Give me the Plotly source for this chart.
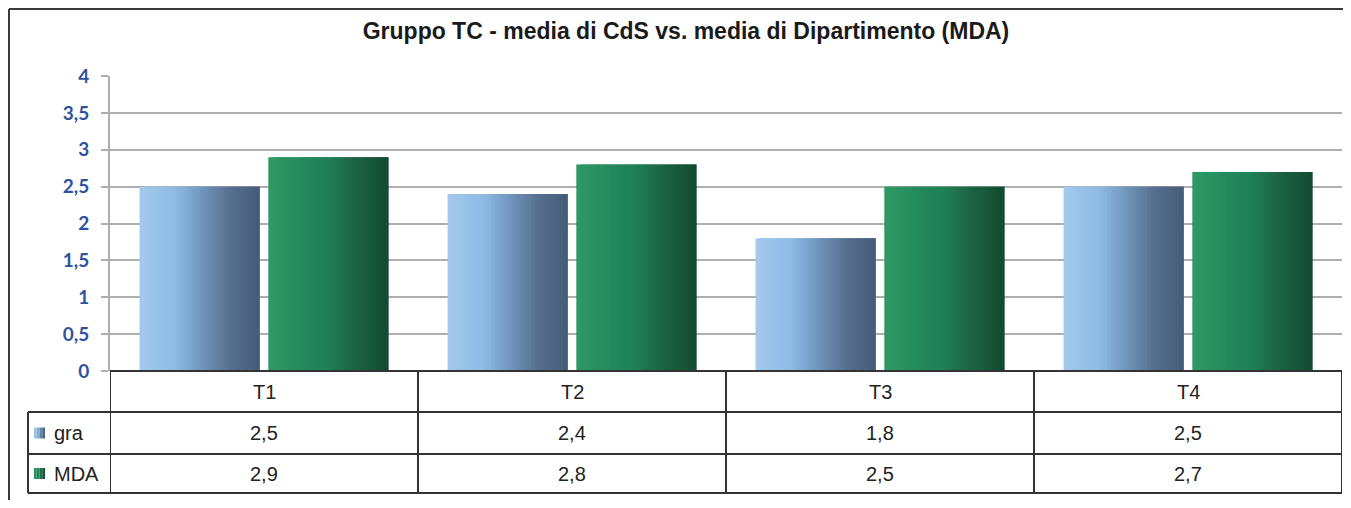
import plotly.graph_objects as go

# ---- data ----
categories = ["T1", "T2", "T3", "T4"]
series_names = ["gra", "MDA"]
gra_values = [2.5, 2.4, 1.8, 2.5]
mda_values = [2.9, 2.8, 2.5, 2.7]
y_tick_vals = [0, 0.5, 1, 1.5, 2, 2.5, 3, 3.5, 4]
y_tick_text = ["0", "0,5", "1", "1,5", "2", "2,5", "3", "3,5", "4"]
title_text = "Gruppo TC - media di CdS vs. media di Dipartimento (MDA)"

# ---- styling ----
OFF = 8  # page body margin of the html page
W, H = 1351 - 2 * OFF, 508 - 2 * OFF
PLOT_L, PLOT_R, PLOT_T, PLOT_B = 110, 1342, 76, 371  # in window pixels
ML, MT = PLOT_L - OFF, PLOT_T - OFF
MR = W - (PLOT_R - OFF)
MB = H - (PLOT_B - OFF)
PW, PH = PLOT_R - PLOT_L, PLOT_B - PLOT_T

blue_stops = [(0.0, (164, 202, 236)), (0.3, (142, 186, 229)), (0.5, (115, 153, 192)),
              (0.75, (86, 112, 143)), (1.0, (69, 91, 120))]
green_stops = [(0.0, (47, 154, 102)), (0.3, (35, 137, 92)), (0.5, (31, 127, 86)),
               (0.72, (27, 100, 68)), (1.0, (18, 74, 48))]


def interp(stops, t):
    for (t0, c0), (t1, c1) in zip(stops[:-1], stops[1:]):
        if t <= t1:
            f = (t - t0) / (t1 - t0) if t1 > t0 else 0
            return "rgb(%d,%d,%d)" % tuple(round(a + (b - a) * f) for a, b in zip(c0, c1))
    return "rgb(%d,%d,%d)" % stops[-1][1]


def px_x(p):
    return (p - PLOT_L) / PW


def px_y(p):
    return (PLOT_B - p) / PH


BAR_W = 0.39
GAP = 0.028
N = 30
fig = go.Figure()
for vals, stops, base in [(gra_values, blue_stops, -(BAR_W + GAP / 2)),
                          (mda_values, green_stops, GAP / 2)]:
    sw = BAR_W / N
    for i in range(N):
        t = (i + 0.5) / N
        w = sw * 2 if i < N - 1 else sw
        fig.add_trace(go.Bar(
            x=categories, y=vals, width=w, offset=base + i * sw,
            marker=dict(color=interp(stops, t), line=dict(width=0)),
            showlegend=False, hoverinfo="skip"))

shapes = []
annots = []
LINE = dict(color="#333333", width=2)
row_y = [px_y(371), px_y(412), px_y(454), px_y(493)]
left_x = px_x(28)

# horizontal table lines
shapes.append(dict(type="line", xref="paper", yref="paper", x0=0, x1=1, y0=row_y[0], y1=row_y[0], line=LINE))
for yy in row_y[1:]:
    shapes.append(dict(type="line", xref="paper", yref="paper", x0=left_x, x1=1, y0=yy, y1=yy, line=LINE))
# vertical table lines
for k in range(len(categories) + 1):
    shapes.append(dict(type="line", xref="x", yref="paper", x0=k - 0.5, x1=k - 0.5,
                       y0=row_y[0], y1=row_y[3], line=LINE))
shapes.append(dict(type="line", xref="paper", yref="paper", x0=left_x, x1=left_x,
                   y0=row_y[1], y1=row_y[3], line=LINE))

# outer frame (left and top edges)
FRAME = dict(color="#3a3a3a", width=2)
shapes.append(dict(type="line", xref="paper", yref="paper", x0=px_x(9), x1=px_x(9),
                   y0=px_y(9), y1=px_y(520), line=FRAME))
shapes.append(dict(type="line", xref="paper", yref="paper", x0=px_x(9), x1=px_x(1360),
                   y0=px_y(9), y1=px_y(9), line=FRAME))

TXT = dict(family="Liberation Sans, Arial, sans-serif", size=20, color="#222222")
# header row
for i, c in enumerate(categories):
    annots.append(dict(xref="x", yref="paper", x=i, y=(row_y[0] + row_y[1]) / 2, text=c,
                       showarrow=False, font=TXT, xanchor="center", yanchor="middle"))
# value rows
for r, (name, vals, stops) in enumerate([(series_names[0], gra_values, blue_stops),
                                          (series_names[1], mda_values, green_stops)]):
    yc = (row_y[r + 1] + row_y[r + 2]) / 2
    for i, v in enumerate(vals):
        annots.append(dict(xref="x", yref="paper", x=i, y=yc, text=f"{v:.1f}".replace(".", ","),
                           showarrow=False, font=TXT, xanchor="center", yanchor="middle"))
    annots.append(dict(xref="paper", yref="paper", x=px_x(52), y=yc, text=name,
                       showarrow=False, font=TXT, xanchor="left", yanchor="middle"))
    # legend swatch with small gradient
    sx0, sx1 = 34, 45
    ns = 4
    for j in range(ns):
        a = sx0 + (sx1 - sx0) * j / ns
        b = sx0 + (sx1 - sx0) * (j + 1) / ns
        shapes.append(dict(type="rect", xref="paper", yref="paper",
                           x0=px_x(a), x1=px_x(b), y0=yc - 5.5 / PH, y1=yc + 5.5 / PH,
                           fillcolor=interp(stops, (j + 0.5) / ns), line=dict(width=0)))

fig.update_layout(
    width=W, height=H,
    margin=dict(l=ML, r=MR, t=MT, b=MB, pad=0),
    paper_bgcolor="white", plot_bgcolor="white",
    barmode="overlay",
    separators=",.",
    showlegend=False,
    title=dict(text="<b>" + title_text + "</b>", xref="container", yref="container",
               x=(686 - OFF) / W, y=1 - (31 - OFF) / H, xanchor="center", yanchor="middle",
               font=dict(family="Liberation Sans, Arial, sans-serif", size=23, color="#1a1a1a")),
    xaxis=dict(type="category", range=[-0.5, len(categories) - 0.5], showticklabels=False,
               showgrid=False, zeroline=False, showline=False, ticks=""),
    yaxis=dict(range=[0, 4], tickvals=y_tick_vals, ticktext=y_tick_text,
               showgrid=True, gridcolor="#AEAEAE", gridwidth=2, zeroline=False,
               showline=True, linecolor="#AEAEAE", linewidth=2,
               ticks="outside", ticklen=7, tickwidth=2, tickcolor="#AEAEAE",
               ticklabelstandoff=8,
               tickfont=dict(family="Lato, Open Sans, sans-serif", size=19, color="#2F52A0",
                             weight="bold")),
    shapes=shapes, annotations=annots,
)
fig.write_html("out.html")
